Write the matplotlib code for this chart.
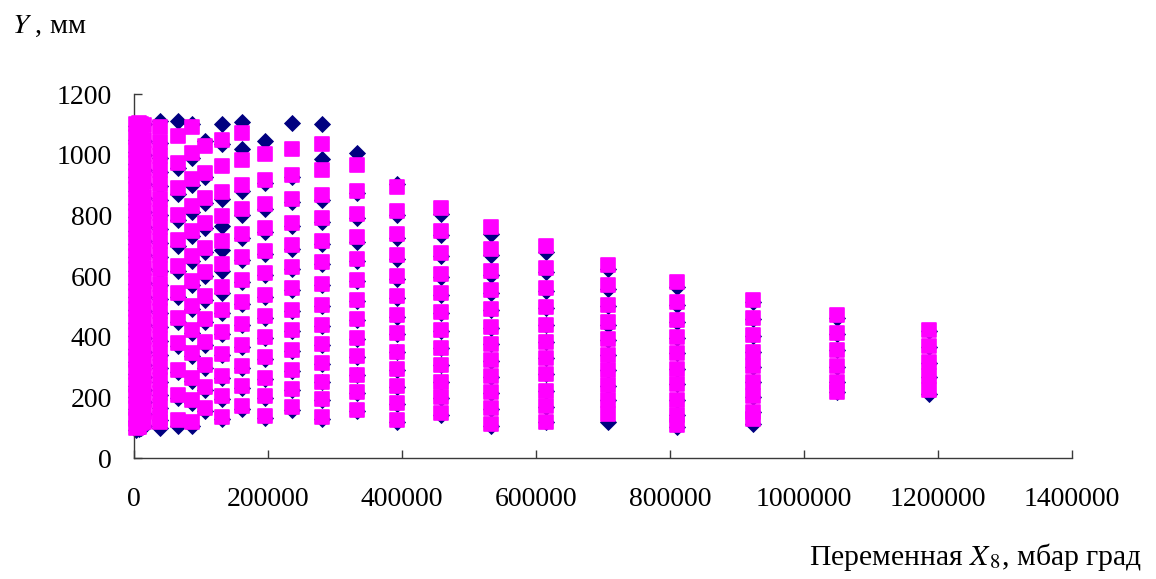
import numpy as np
import matplotlib
matplotlib.use("Agg")
import matplotlib.pyplot as plt
from matplotlib.markers import MarkerStyle

plt.rcParams['font.family'] = ['Liberation Serif', 'DejaVu Serif']
plt.rcParams['mathtext.fontset'] = 'stix'

# X8 value of each column (mbar*deg)
x_vals = [3000, 7000, 11000, 15000, 38800, 65700, 86600, 106000, 131300, 161200,
          195500, 235800, 280600, 332800, 392500, 458200, 532800, 614900, 707500,
          810400, 923900, 1049000, 1186600]

# measured Y, mm (navy diamonds)
y_actual = [
    [1095, 1050, 1010, 968, 925, 880, 838, 795, 750, 706, 662, 618, 575, 530, 487, 445, 402, 360, 318, 278, 238, 200, 160, 122, 92],
    [1100, 1058, 1015, 972, 930, 886, 842, 798, 754, 710, 666, 622, 578, 534, 490, 448, 405, 363, 322, 281, 241, 202, 164, 127, 95],
    [1102, 1050, 1004, 960, 915, 871, 826, 781, 736, 692, 647, 603, 558, 514, 470, 427, 384, 342, 300, 259, 219, 180, 143, 100],
    [1100, 1045, 998, 950, 904, 857, 810, 763, 716, 670, 623, 577, 531, 485, 440, 395, 351, 308, 266, 225, 185, 146, 105],
    [1110, 1038, 990, 944, 896, 850, 802, 756, 710, 662, 616, 570, 523, 478, 432, 386, 340, 296, 252, 208, 165, 125, 99],
    [1110, 955, 870, 785, 700, 618, 532, 450, 368, 282, 198, 105],
    [1100, 990, 900, 812, 732, 650, 570, 490, 412, 336, 255, 182, 105],
    [1045, 925, 840, 758, 678, 600, 522, 448, 372, 298, 225, 156],
    [1100, 1035, 853, 764, 685, 615, 545, 478, 408, 338, 265, 196, 128],
    [1108, 1020, 880, 800, 725, 652, 580, 508, 437, 365, 296, 230, 162],
    [1046, 905, 820, 745, 672, 604, 530, 462, 394, 328, 262, 198, 132],
    [1104, 925, 845, 765, 690, 622, 553, 485, 418, 352, 288, 225, 158],
    [1100, 985, 850, 778, 705, 638, 570, 502, 436, 374, 311, 249, 192, 129],
    [1007, 872, 790, 712, 648, 582, 518, 455, 393, 333, 272, 214, 154],
    [902, 802, 725, 656, 590, 527, 466, 409, 349, 291, 234, 179, 120],
    [803, 735, 665, 598, 537, 477, 418, 361, 305, 250, 199, 142],
    [740, 668, 604, 545, 488, 430, 375, 321, 268, 215, 162, 104],
    [680, 612, 550, 494, 438, 383, 329, 276, 221, 169, 118],
    [624, 557, 500, 440, 389, 338, 289, 239, 190, 119],
    [565, 503, 450, 397, 345, 293, 243, 191, 141, 102],
    [515, 458, 402, 350, 301, 251, 202, 152, 112],
    [462, 410, 356, 301, 251, 218],
    [420, 366, 314, 268, 212],
]

# model Y, mm (magenta squares)
y_model = [
    [1100, 1058, 1016, 972, 930, 886, 842, 798, 754, 710, 666, 622, 578, 534, 490, 448, 406, 364, 322, 282, 242, 204, 166, 130, 98],
    [1104, 1062, 1020, 977, 934, 890, 846, 802, 758, 714, 670, 626, 582, 538, 495, 452, 410, 368, 326, 286, 246, 207, 170, 134, 102],
    [1100, 1055, 1010, 965, 920, 876, 831, 786, 741, 697, 652, 608, 563, 519, 475, 432, 389, 347, 305, 264, 224, 186, 150, 116],
    [1098, 1050, 1003, 956, 909, 862, 815, 768, 721, 675, 628, 582, 536, 490, 445, 400, 356, 313, 271, 230, 190, 152, 118],
    [1090, 1043, 996, 949, 902, 855, 808, 762, 715, 668, 622, 575, 529, 483, 437, 391, 346, 301, 257, 214, 172, 132, 118],
    [1060, 974, 889, 801, 718, 632, 544, 462, 379, 291, 208, 125],
    [1090, 1007, 919, 831, 748, 665, 583, 500, 423, 346, 263, 192, 120],
    [1029, 941, 858, 774, 693, 613, 533, 458, 381, 307, 234, 164],
    [1049, 963, 878, 798, 717, 640, 563, 489, 416, 343, 271, 203, 135],
    [1071, 983, 899, 820, 740, 663, 588, 515, 443, 371, 302, 236, 170],
    [1002, 917, 836, 759, 682, 611, 537, 467, 399, 332, 265, 203, 139],
    [1018, 932, 853, 776, 702, 629, 559, 489, 421, 355, 291, 228, 168],
    [1035, 948, 866, 790, 714, 645, 575, 506, 440, 377, 314, 251, 195, 135],
    [965, 880, 803, 730, 657, 588, 522, 458, 396, 335, 274, 216, 159],
    [895, 814, 739, 668, 599, 533, 470, 412, 351, 293, 236, 181, 126],
    [825, 748, 677, 608, 544, 482, 421, 363, 307, 252, 201, 148],
    [763, 688, 618, 553, 492, 432, 376, 322, 269, 216, 164, 112],
    [699, 627, 559, 498, 440, 384, 330, 277, 222, 170, 120],
    [636, 570, 506, 447, 392, 340, 290, 240, 192, 145],
    [580, 513, 454, 399, 346, 294, 244, 192, 142, 110],
    [522, 462, 404, 351, 302, 252, 203, 153, 128],
    [473, 412, 357, 302, 252, 219],
    [423, 368, 315, 269, 225],
]

x_ticks = [0, 200000, 400000, 600000, 800000, 1000000, 1200000, 1400000]
x_tick_labels = ["0", "200000", "400000", "600000", "800000", "1000000", "1200000", "1400000"]
y_ticks = [0, 200, 400, 600, 800, 1000, 1200]
y_tick_labels = ["0", "200", "400", "600", "800", "1000", "1200"]

W, H = 1156, 579
fig = plt.figure(figsize=(W / 100, H / 100), dpi=100)
ax = fig.add_axes([134 / W, 1 - 458 / H, (1072 - 134) / W, (458 - 94) / H])

xa = np.concatenate([np.full(len(ys), x) for x, ys in zip(x_vals, y_actual)])
ya = np.concatenate([np.asarray(ys, float) for ys in y_actual])
xm = np.concatenate([np.full(len(ys), x) for x, ys in zip(x_vals, y_model)])
ym = np.concatenate([np.asarray(ys, float) for ys in y_model])

ax.plot(xa, ya, linestyle='none', marker=MarkerStyle('D', joinstyle='miter'),
        markersize=8.0, color='#000080', markeredgecolor='#000080',
        markeredgewidth=0.6, zorder=2, clip_on=False)
ax.plot(xm, ym, linestyle='none', marker=MarkerStyle('s', joinstyle='round'),
        markersize=10.5, color='#FF00FF', markeredgecolor='#FF00FF',
        markeredgewidth=1.2, zorder=3, clip_on=False)

ax.set_xlim(0, 1400000)
ax.set_ylim(0, 1200)
ax.set_xticks(x_ticks)
ax.set_xticklabels(x_tick_labels)
ax.set_yticks(y_ticks)
ax.set_yticklabels(y_tick_labels)

for s in ('top', 'right'):
    ax.spines[s].set_visible(False)
for s in ('left', 'bottom'):
    ax.spines[s].set_color('#3a3a3a')
    ax.spines[s].set_linewidth(1.0)

ax.tick_params(axis='x', direction='in', length=6, width=1.0, color='#3a3a3a',
               labelsize=20, pad=21)
ax.tick_params(axis='y', direction='in', length=6, width=1.0, color='#3a3a3a',
               labelsize=20, pad=16)

fig.text(12 / W, 1 - 33 / H, "$Y$ , мм", fontsize=20.5, ha='left', va='baseline')
fig.text(1142 / W, 1 - 565 / H, "Переменная $X_{\\,8}$, мбар град", fontsize=21.3,
         ha='right', va='baseline')

fig.savefig("out.png", dpi=100)
